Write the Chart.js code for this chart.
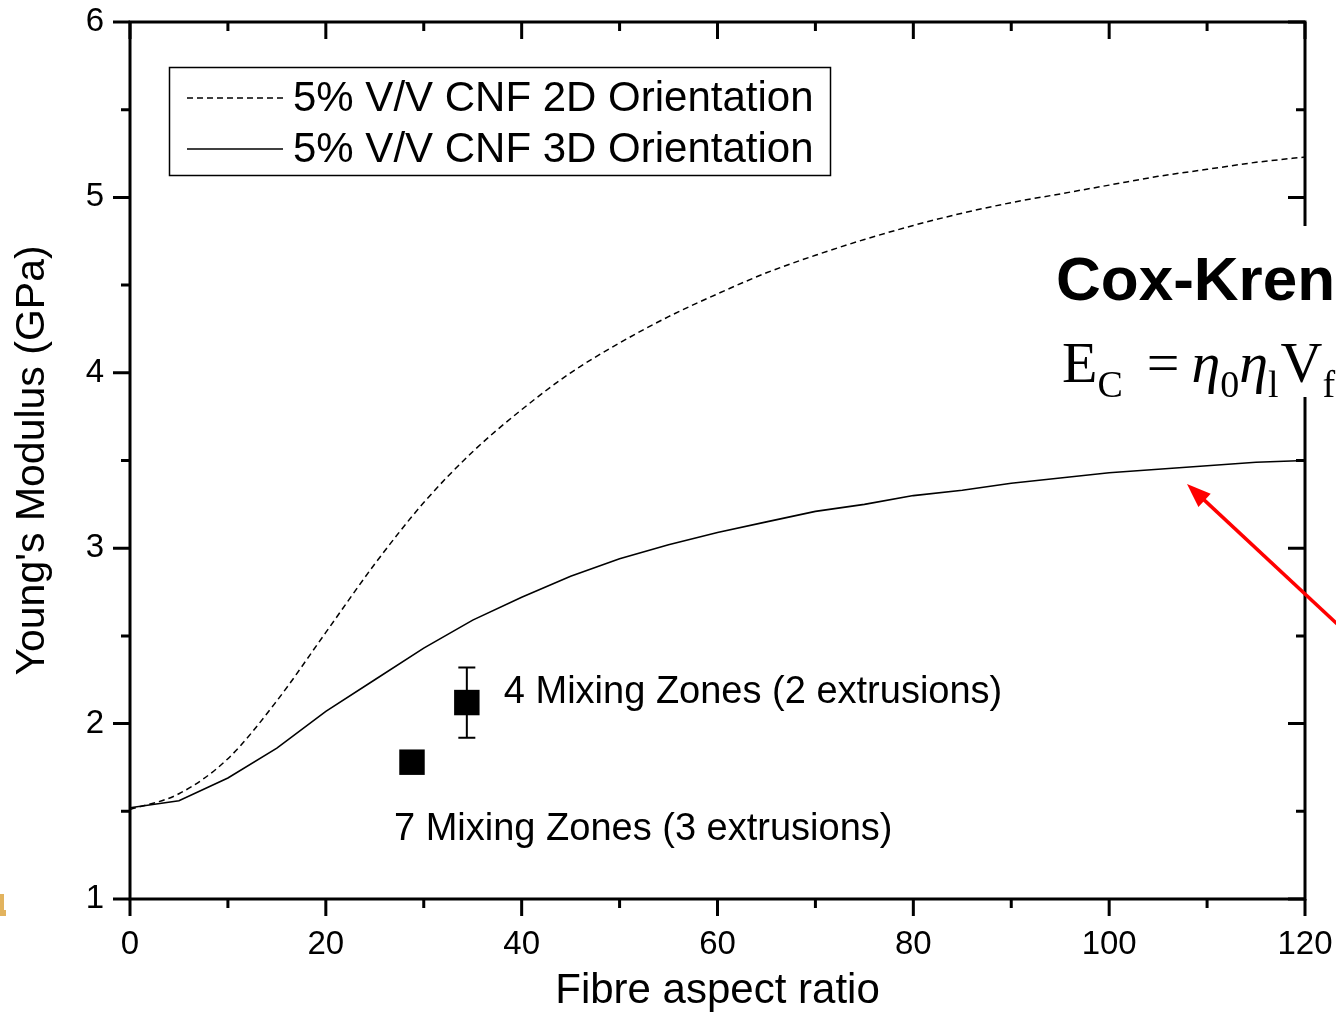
<!DOCTYPE html>
<html>
<head>
<meta charset="utf-8">
<script src="https://cdn.jsdelivr.net/npm/chart.js@4.4.1/dist/chart.umd.min.js"></script>
<style>
  html, body { margin: 0; padding: 0; background: #fff; overflow: hidden; }
  #wrap { width: 1336px; height: 1012px; }
</style>
</head>
<body>
<div id="wrap"><canvas id="c" width="1336" height="1012"></canvas></div>
<script>
// Fibre aspect ratio (x) and predicted composite modulus (GPa)
const aspectRatio = [0, 5, 10, 15, 20, 25, 30, 35, 40, 45, 50, 55, 60, 65, 70, 75, 80, 85, 90, 95, 100, 105, 110, 115, 120];
const modulus2D   = [1.51, 1.60, 1.80, 2.13, 2.52, 2.91, 3.26, 3.55, 3.79, 4.00, 4.17, 4.32, 4.45, 4.57, 4.67, 4.76, 4.84, 4.91, 4.97, 5.02, 5.07, 5.12, 5.16, 5.20, 5.23];
const modulus3D   = [1.52, 1.56, 1.69, 1.86, 2.07, 2.25, 2.43, 2.59, 2.72, 2.84, 2.94, 3.02, 3.09, 3.15, 3.21, 3.25, 3.30, 3.33, 3.37, 3.40, 3.43, 3.45, 3.47, 3.49, 3.50];

// Measured samples
const sampleLabels  = ['7 Mixing Zones (3 extrusions)', '4 Mixing Zones (2 extrusions)'];
const sampleAspect  = [28.8, 34.4];
const sampleModulus = [1.78, 2.12];
const sampleError   = [0, 0.20];

// Axis ticks
const xTickValues = [0, 20, 40, 60, 80, 100, 120];
const yTickValues = [1, 2, 3, 4, 5, 6];

const seriesNames = ['5% V/V CNF 2D Orientation', '5% V/V CNF 3D Orientation'];
const modelTitle = 'Cox-Krenchel';

const SANS = '"Liberation Sans", Arial, Helvetica, sans-serif';
const SERIF = '"Liberation Serif", "Times New Roman", serif';

const toPoints = (xs, ys) => xs.map((v, i) => ({ x: v, y: ys[i] }));

const decorations = {
  id: 'decorations',
  afterDatasetsDraw(chart) {
    const { ctx, chartArea: a, scales: { x, y } } = chart;
    ctx.save();
    ctx.strokeStyle = '#000';
    ctx.fillStyle = '#000';

    // error bars on the measured samples
    ctx.lineWidth = 2;
    sampleAspect.forEach((v, i) => {
      if (!sampleError[i]) return;
      const px = x.getPixelForValue(v);
      const t = y.getPixelForValue(sampleModulus[i] + sampleError[i]);
      const b = y.getPixelForValue(sampleModulus[i] - sampleError[i]);
      ctx.beginPath();
      ctx.moveTo(px, t); ctx.lineTo(px, b);
      ctx.moveTo(px - 8.5, t); ctx.lineTo(px + 8.5, t);
      ctx.moveTo(px - 8.5, b); ctx.lineTo(px + 8.5, b);
      ctx.stroke();
    });

    // sample labels
    ctx.font = '38px ' + SANS;
    ctx.textBaseline = 'middle';
    ctx.textAlign = 'left';
    {
      const px = x.getPixelForValue(sampleAspect[1]);
      const py = y.getPixelForValue(sampleModulus[1]);
      ctx.fillText(sampleLabels[1], px + 37, py - 10);
      const qx = x.getPixelForValue(sampleAspect[0]);
      const qy = y.getPixelForValue(sampleModulus[0]);
      ctx.fillText(sampleLabels[0], qx - 18, qy + 67);
    }

    // frame
    ctx.lineWidth = 3;
    ctx.strokeRect(a.left, a.top, a.width, a.height);

    // tick marks: outward on bottom/left, inward on top/right, minor ticks halfway
    const MAJ = 17, MIN = 9;
    ctx.lineWidth = 3;
    ctx.lineCap = 'butt';
    ctx.beginPath();
    const xs = x.ticks.map(t => t.value);
    xs.forEach((v, i) => {
      const p = x.getPixelForValue(v);
      ctx.moveTo(p, a.bottom); ctx.lineTo(p, a.bottom + MAJ);
      ctx.moveTo(p, a.top); ctx.lineTo(p, a.top + MAJ);
      if (i < xs.length - 1) {
        const m = x.getPixelForValue((v + xs[i + 1]) / 2);
        ctx.moveTo(m, a.bottom); ctx.lineTo(m, a.bottom + MIN);
        ctx.moveTo(m, a.top); ctx.lineTo(m, a.top + MIN);
      }
    });
    const ys = y.ticks.map(t => t.value);
    ys.forEach((v, i) => {
      const p = y.getPixelForValue(v);
      ctx.moveTo(a.left - MAJ, p); ctx.lineTo(a.left, p);
      ctx.moveTo(a.right - MAJ, p); ctx.lineTo(a.right, p);
      if (i < ys.length - 1) {
        const m = y.getPixelForValue((v + ys[i + 1]) / 2);
        ctx.moveTo(a.left - MIN, m); ctx.lineTo(a.left, m);
        ctx.moveTo(a.right - MIN, m); ctx.lineTo(a.right, m);
      }
    });
    ctx.stroke();

    // legend
    const lx = 169.5, ly = 67.5, lw = 661, lh = 108;
    ctx.lineWidth = 1.5;
    ctx.strokeRect(lx, ly, lw, lh);
    ctx.font = '42px ' + SANS;
    ctx.textBaseline = 'middle';
    chart.data.datasets.slice(0, 2).forEach((ds, i) => {
      const rowY = 98 + i * 51;
      ctx.save();
      ctx.lineWidth = 1.5;
      ctx.setLineDash(ds.borderDash || []);
      ctx.beginPath();
      ctx.moveTo(187, rowY); ctx.lineTo(283, rowY);
      ctx.stroke();
      ctx.restore();
      ctx.fillText(ds.label, 293, rowY + 1);
    });

    // model panel
    ctx.fillStyle = '#fff';
    ctx.fillRect(1046, 226, 300, 171);
    ctx.fillStyle = '#000';
    ctx.textBaseline = 'alphabetic';
    ctx.font = 'bold 62px ' + SANS;
    ctx.fillText(modelTitle, 1056, 300);

    // E_C = η0 ηl Vf Ef + ...
    const base = 382;
    let cx = 1062;
    const big = '58px ' + SERIF, bigI = 'italic 58px ' + SERIF, sub = '38px ' + SERIF;
    const put = (txt, font, dy) => { ctx.font = font; ctx.fillText(txt, cx, base + dy); cx += ctx.measureText(txt).width; };
    put('E', big, 0); put('C', sub, 15); cx += 24;
    put('=', big, 0); cx += 12;
    put('\u03B7', bigI, 0); put('0', sub, 15);
    put('\u03B7', bigI, 0); put('l', sub, 15); cx += 2;
    put('V', big, 0); put('f', sub, 15);
    put('E', big, 0); put('f', sub, 15); cx += 10;
    put('+', big, 0);

    // red arrow pointing at the 3D curve
    const tip = { x: 1187, y: 484 }, tail = { x: 1350, y: 636 };
    const ang = Math.atan2(tip.y - tail.y, tip.x - tail.x);
    const hl = 24, hw = 9;
    ctx.strokeStyle = '#ff0000';
    ctx.fillStyle = '#ff0000';
    ctx.lineWidth = 3.5;
    ctx.beginPath();
    ctx.moveTo(tail.x, tail.y);
    ctx.lineTo(tip.x - Math.cos(ang) * (hl - 4), tip.y - Math.sin(ang) * (hl - 4));
    ctx.stroke();
    ctx.beginPath();
    ctx.moveTo(tip.x, tip.y);
    ctx.lineTo(tip.x - Math.cos(ang) * hl + Math.sin(ang) * hw, tip.y - Math.sin(ang) * hl - Math.cos(ang) * hw);
    ctx.lineTo(tip.x - Math.cos(ang) * hl - Math.sin(ang) * hw, tip.y - Math.sin(ang) * hl + Math.cos(ang) * hw);
    ctx.closePath();
    ctx.fill();

    // small ochre mark at the left edge
    ctx.fillStyle = '#e2b35e';
    ctx.fillRect(0, 894, 4, 18);
    ctx.fillRect(0, 910, 6, 6);

    ctx.restore();
  }
};

new Chart(document.getElementById('c'), {
  type: 'line',
  data: {
    datasets: [
      {
        label: seriesNames[0],
        data: toPoints(aspectRatio, modulus2D),
        borderColor: '#000',
        borderWidth: 1.5,
        borderDash: [6, 4],
        pointRadius: 0,
        cubicInterpolationMode: 'monotone',
        fill: false
      },
      {
        label: seriesNames[1],
        data: toPoints(aspectRatio, modulus3D),
        borderColor: '#000',
        borderWidth: 1.6,
        pointRadius: 0,
        tension: 0,
        fill: false
      },
      {
        type: 'scatter',
        label: 'samples',
        data: toPoints(sampleAspect, sampleModulus),
        pointStyle: 'rect',
        pointRadius: 18,
        backgroundColor: '#000',
        borderColor: '#000',
        borderWidth: 0,
        showLine: false
      }
    ]
  },
  options: {
    responsive: false,
    animation: false,
    devicePixelRatio: 1,
    layout: { padding: { left: 0, top: 22, right: 31, bottom: 0 } },
    plugins: { legend: { display: false }, tooltip: { enabled: false } },
    scales: {
      x: {
        type: 'linear',
        min: 0, max: 120,
        afterBuildTicks: s => { s.ticks = xTickValues.map(v => ({ value: v })); },
        afterFit: s => { s.height = 113; s.paddingLeft = 0; s.paddingRight = 0; },
        grid: { display: false, drawTicks: false },
        border: { display: false },
        ticks: { color: '#000', font: { family: SANS, size: 33 }, padding: 26, maxRotation: 0 },
        title: { display: true, text: 'Fibre aspect ratio', color: '#000', font: { family: SANS, size: 42, lineHeight: 1 }, padding: { top: 0, bottom: 0 } }
      },
      y: {
        type: 'linear',
        min: 1, max: 6,
        afterBuildTicks: s => { s.ticks = yTickValues.map(v => ({ value: v })); },
        afterFit: s => { s.width = 130; s.paddingTop = 0; s.paddingBottom = 0; },
        grid: { display: false, drawTicks: false },
        border: { display: false },
        ticks: { color: '#000', font: { family: SANS, size: 33 }, padding: 26 },
        title: { display: true, text: "Young's Modulus (GPa)", color: '#000', font: { family: SANS, size: 41, lineHeight: 1.2 }, padding: { top: 8, bottom: 0 } }
      }
    }
  },
  plugins: [decorations]
});
</script>
</body>
</html>
